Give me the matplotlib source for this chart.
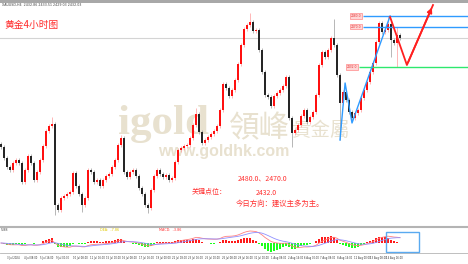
import numpy as np
import matplotlib.pyplot as plt
from matplotlib.patches import Rectangle

plt.rcParams['font.family'] = ['Noto Sans CJK SC', 'DejaVu Sans']

# 黄金 H4 收盘价
close = [
    2356.8, 2346.5, 2338.0, 2335.2, 2341.8, 2344.6, 2341.8, 2323.9, 2335.2, 2348.4,
    2341.8, 2325.8, 2333.3, 2344.6, 2357.8, 2371.9, 2376.6, 2378.4, 2302.3, 2297.6,
    2308.9, 2310.8, 2312.6, 2314.5, 2332.4, 2320.2, 2312.6, 2302.3, 2308.9, 2335.2,
    2333.3, 2323.9, 2325.8, 2320.2, 2325.8, 2329.6, 2331.4, 2338.0, 2344.6, 2358.7,
    2365.3, 2333.3, 2328.6, 2333.3, 2335.2, 2329.6, 2318.3, 2312.6, 2302.3, 2299.5,
    2316.4, 2329.6, 2335.2, 2331.4, 2328.6, 2330.5, 2325.8, 2327.7, 2342.7, 2354.0,
    2355.9, 2357.8, 2358.7, 2365.3, 2377.5, 2387.8, 2370.9, 2360.6, 2363.4, 2366.2,
    2369.0, 2371.9, 2376.6, 2391.6, 2416.0, 2412.3, 2404.8, 2410.4, 2419.8, 2434.8,
    2452.7, 2467.7, 2471.5, 2474.3, 2465.9, 2466.8, 2448.0, 2427.3, 2405.7, 2403.9,
    2395.4, 2404.8, 2407.6, 2410.4, 2414.2, 2422.6, 2384.1, 2370.0, 2372.8, 2377.5,
    2386.0, 2391.6, 2380.3, 2385.0, 2389.7, 2405.7, 2433.9, 2446.1, 2441.4, 2448.0,
    2459.3, 2452.7, 2424.5, 2398.2, 2408.5, 2401.0, 2389.7, 2384.1, 2388.8, 2391.6,
    2402.9, 2410.4, 2417.9, 2427.3, 2435.8, 2455.5, 2473.4, 2464.9, 2466.8, 2472.4,
    2457.4, 2455.0, 2462.1, 2459.3,
]
# 长影线
wick_hi = {17: 2385.0, 40: 2368.1, 65: 2393.5, 83: 2482.8, 111: 2477.1, 129: 2480.0, 132: 2469.6}
wick_lo = {18: 2292.9, 27: 2295.7, 49: 2294.8, 97: 2356.8, 113: 2363.4, 130: 2441.4, 132: 2432.0}

# 关键价位
levels = [2480.0, 2470.0, 2432.0]
level_start = [120.7, 120.7, 119.3]
level_colors = ['#2f9bff', '#2f9bff', '#2ee86e']

# 画线 (K线序号, 价格)
blue_x = [113, 114.7, 117, 129.7]
blue_y = [2363.4, 2417.0, 2379.4, 2480.0]
red_x = [129.7, 135.3, 144.0]
red_y = [2479.0, 2433.9, 2490.3]

dates = ['3 Jul 2024', '4 Jul 08:00', '5 Jul 16:00', '9 Jul 00:00', '10 Jul 08:00',
         '11 Jul 16:00', '15 Jul 00:00', '16 Jul 08:00', '17 Jul 16:00', '19 Jul 00:00',
         '22 Jul 08:00', '23 Jul 16:00', '25 Jul 00:00', '26 Jul 08:00', '29 Jul 16:00',
         '31 Jul 00:00', '1 Aug 08:00', '2 Aug 16:00', '6 Aug 00:00', '7 Aug 08:00',
         '8 Aug 16:00', '12 Aug 00:00', '13 Aug 08:00', '14 Aug 16:00']

c = np.array(close)
o = np.concatenate([[c[0] + 3], c[:-1]])
n = len(c)
x = np.arange(n)
hi = np.maximum(o, c) + 2.0
lo = np.minimum(o, c) - 2.0
for k, v in wick_hi.items():
    hi[k] = v
for k, v in wick_lo.items():
    lo[k] = v
up = c >= o

fig = plt.figure(figsize=(4.68, 2.64), dpi=100)
ax = fig.add_axes([0, 39/264, 1, 222/264])
ax.set_xlim(-1/3, 467/3)
ax.set_ylim(2283.5, 2492.2)
ax.axis('off')

# 水印
wm = '#e8e1cf'
ax.text(118/468, 1-134/264, 'igold', transform=fig.transFigure, fontsize=31, color=wm,
        family='Liberation Serif', weight='bold', va='baseline', zorder=0)
ax.text(229/468, 1-137/264, '領峰', transform=fig.transFigure, fontsize=22, color=wm,
        family='Noto Sans CJK TC', va='baseline', zorder=0)
ax.text(292/468, 1-136/264, '貴金屬', transform=fig.transFigure, fontsize=14, color=wm,
        family='Noto Sans CJK TC', va='baseline', zorder=0)
ax.text(158/468, 1-156/264, 'www.goldhk.com', transform=fig.transFigure, fontsize=11.5, color=wm,
        family='Liberation Sans', weight='bold', va='baseline', zorder=0)

# 现价线
ax.axhline(c[-1], color='#d4d4d4', lw=0.8, zorder=0.5)

# K线
ax.vlines(x, lo, hi, colors=np.where(up, '#ff9a9a', '#9a9a9a'), lw=0.5, zorder=1)
body = np.maximum(np.abs(c - o), 0.7)
ax.bar(x, body, bottom=np.minimum(o, c), width=0.5,
       color=np.where(up, '#ff1010', '#262626'), lw=0, zorder=2)

for lv, st, col in zip(levels, level_start, level_colors):
    ax.hlines(lv, st, 156, color=col, lw=1.0, zorder=3)
    ax.text(st - 2.3, lv, '%.1f' % lv, fontsize=2.2, color='#e03030', ha='center', va='center',
            family='DejaVu Sans',
            bbox=dict(boxstyle='square,pad=0.25', fc='#ffd6d6', ec='#ff7070', lw=0.4), zorder=3)

ax.plot(blue_x, blue_y, color='#2f9bff', lw=1.0, zorder=3)
ax.plot(red_x, red_y, color='#ff2020', lw=1.3, zorder=4)
ax.annotate('', xy=(red_x[-1], red_y[-1]), xytext=(red_x[-2], red_y[-2]),
            arrowprops=dict(arrowstyle='-|>', color='#ff2020', lw=1.3, mutation_scale=7), zorder=4)

# 标题和文字
fig.text(4/468, 1-25/264, '黄金4小时图', color='#ff2a2a', fontsize=7, va='center')
fig.text(2/468, 1-5/264, 'XAUUSD,H4  2432.86 2433.51 2429.03 2432.03', fontsize=2.3,
         color='#404040', va='center', family='DejaVu Sans')
fig.add_artist(Rectangle((0, 1-2.5/264), 1, 2.5/264, transform=fig.transFigure,
                         color='#a8a8a8', lw=0))
red = '#ff3030'
fig.text(238/468, 1-179/264, '2480.0、2470.0', color=red, fontsize=5, va='center')
fig.text(192/468, 1-192/264, '关键点位：', color=red, fontsize=5, va='center')
fig.text(256/468, 1-193/264, '2432.0', color=red, fontsize=5, va='center')
fig.text(236/468, 1-204/264, '今日方向：建议主多为主。', color=red, fontsize=5.3, va='center')

# MACD
def ema(v, span):
    out = np.zeros(len(v))
    a = 2 / (span + 1)
    out[0] = v[0]
    for i in range(1, len(v)):
        out[i] = a * v[i] + (1 - a) * out[i - 1]
    return out

dif = ema(c, 9) - ema(c, 19)
dea = ema(dif, 7)
bar = 2 * (dif - dea)

ax2 = fig.add_axes([0, 11/264, 1, 26/264])
ax2.set_xlim(-1/3, 467/3)
k = max(np.abs(dif).max(), np.abs(bar).max()) / 12
ax2.set_ylim(-10 * k, 16 * k)
ax2.bar(x, bar, width=0.8, color=np.where(bar >= 0, '#ff1a1a', '#1aff1a'), lw=0)
ax2.plot(x, dif, color='#ff8080', lw=0.6)
ax2.plot(x, dea, color='#9090ff', lw=0.6)
for s in ['left', 'right']:
    ax2.spines[s].set_visible(False)
ax2.spines['top'].set_color('#b4b4b4')
ax2.spines['top'].set_linewidth(1.5)
ax2.spines['bottom'].set_color('#b4b4b4')
ax2.spines['bottom'].set_linewidth(0.6)
ax2.set_yticks([])
ax2.set_xticks(np.arange(len(dates)) * 5.5 + 2)
ax2.set_xticklabels(dates, fontsize=1.8, color='#333333', family='DejaVu Sans')
for t in ax2.get_xticklabels():
    t.set_ha('left')
ax2.tick_params(axis='x', length=0, pad=2.5)

fig.text(1/468, 1-230/264, '5.88', fontsize=2.4, color='#404040', va='center', family='DejaVu Sans')
fig.text(100/468, 1-230/264, 'DEA:  -7.86', fontsize=2.4, color='#e0c800', va='center', family='DejaVu Sans')
fig.text(159/468, 1-230/264, 'MACD:  -3.86', fontsize=2.4, color='#ff3030', va='center', family='DejaVu Sans')
fig.add_artist(Rectangle((386/468, 1-252/264), 33/468, 20/264, transform=fig.transFigure,
                         fill=False, ec='#5aaaf0', lw=1.0))

fig.savefig('out.png', dpi=100)
